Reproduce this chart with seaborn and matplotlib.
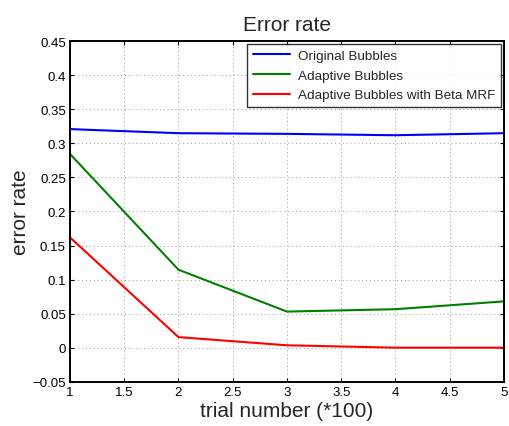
import numpy as np
import pandas as pd
import matplotlib
matplotlib.use('Agg')
import matplotlib.pyplot as plt
import seaborn as sns

# data
trials = [1, 2, 3, 4, 5]
original = [0.321, 0.315, 0.314, 0.312, 0.315]
adaptive = [0.2845, 0.1145, 0.053, 0.0565, 0.068]
adaptive_mrf = [0.162, 0.0155, 0.0035, 0.0, 0.0]
names = ['Original Bubbles', 'Adaptive Bubbles', 'Adaptive Bubbles with Beta MRF']
colors = ['#0000ff', '#008000', '#ff0000']

df = pd.DataFrame({
    'trial': trials * 3,
    'rate': original + adaptive + adaptive_mrf,
    'method': [names[0]] * 5 + [names[1]] * 5 + [names[2]] * 5,
})

sns.set_style("ticks")
plt.rcParams['font.family'] = ['Liberation Sans', 'DejaVu Sans']

fig = plt.figure(figsize=(5.09, 4.27), dpi=100)
ax = fig.add_axes([0.1375, 0.1037, 0.8525, 0.7973])

sns.lineplot(data=df, x='trial', y='rate', hue='method', palette=colors,
             hue_order=names, linewidth=1.5, ax=ax)

ax.set_xlim(1, 5)
ax.set_ylim(-0.05, 0.45)
ax.set_xticks(np.arange(1, 5.01, 0.5))
ax.set_xticklabels(['1', '1.5', '2', '2.5', '3', '3.5', '4', '4.5', '5'])
ax.set_yticks(np.arange(-0.05, 0.451, 0.05))
ax.set_yticklabels(['\u22120.05', '0', '0.05', '0.1', '0.15', '0.2', '0.25',
                    '0.3', '0.35', '0.4', '0.45'])
ax.tick_params(direction='in', top=True, right=True, labelsize=9.5,
               length=3, width=0.8, colors='black', pad=3)
for s in ax.spines.values():
    s.set_visible(True)
    s.set_linewidth(1.4)
    s.set_color('black')
ax.grid(True, linestyle=(0, (1, 3)), color='#999999', linewidth=0.7)

ax.set_title('Error rate', fontsize=15, pad=8)
ax.set_xlabel('trial number (*100)', fontsize=15, labelpad=2)
ax.set_ylabel('error rate', fontsize=15, labelpad=2)

leg = ax.legend(loc='upper right', fontsize=9.7, fancybox=False,
                frameon=True, borderaxespad=0.2, handlelength=2.8,
                borderpad=0.4, labelspacing=0.55, handletextpad=0.6)
leg.get_frame().set_edgecolor('black')
leg.get_frame().set_linewidth(1.0)
leg.set_title(None)

fig.savefig('out.png', dpi=100)
